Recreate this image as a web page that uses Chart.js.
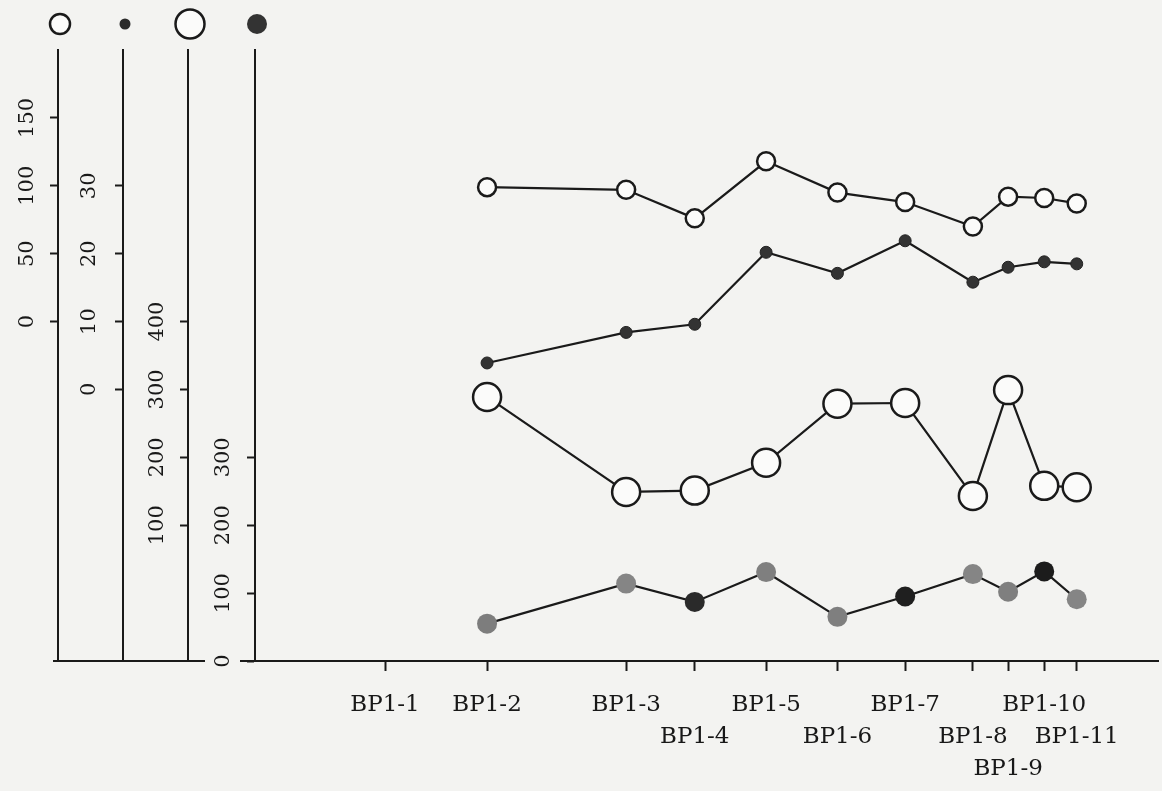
<!DOCTYPE html>
<html>
<head>
<meta charset="utf-8">
<script src="https://cdn.jsdelivr.net/npm/chart.js@4/dist/chart.umd.min.js"></script>
<style>
  html, body { margin: 0; padding: 0; background: #f3f3f1; overflow: hidden; }
  canvas { display: block; }
</style>
</head>
<body>
<canvas id="chart" width="1162" height="791"></canvas>
<script>
// sample stations along the profile and their positions (0-100 along the line)
const stations = ["BP1-1", "BP1-2", "BP1-3", "BP1-4", "BP1-5", "BP1-6", "BP1-7", "BP1-8", "BP1-9", "BP1-10", "BP1-11"];
const stationPos = [14.4, 25.7, 41.1, 48.7, 56.6, 64.5, 72.0, 79.5, 83.4, 87.4, 91.0];
// which label row each station name sits on
const labelRow = [0, 0, 0, 1, 0, 1, 0, 1, 2, 0, 1];

// four measured series, no reading at BP1-1
const smallOpen   = [null, 99, 97, 76, 118, 95, 88, 70, 92, 91, 87];
const smallFilled = [null, 3.9, 8.4, 9.6, 20.2, 17.1, 21.9, 15.8, 18.0, 18.8, 18.5];
const largeOpen   = [null, 289, 149, 151, 192, 279, 280, 143, 299, 158, 156];
const largeFilled = [null, 55, 114, 87, 131, 65, 95, 128, 102, 132, 91];

// labelled ticks on each vertical axis
const ticksA = [0, 50, 100, 150];
const ticksB = [0, 10, 20, 30];
const ticksC = [100, 200, 300, 400];
const ticksD = [0, 100, 200, 300];

// shading of the large filled dots
const largeFilledShade = ["#7d7d7d", "#7d7d7d", "#858585", "#2a2a2a", "#7f7f7f", "#7f7f7f", "#1f1f1f", "#858585", "#7f7f7f", "#1c1c1c", "#858585"];

const INK = "#1a1a1a";
const TEXT = "#181818";
const PAPER = "#fbfbfa";
const FONT = "'DejaVu Serif', serif";

function series(values) {
  return values.map((v, i) => ({ x: stationPos[i], y: v }));
}

function yAxis(ticks, min, max, width, pad) {
  return {
    type: "linear",
    position: "left",
    min: min,
    max: max,
    afterBuildTicks: s => { s.ticks = ticks.map(v => ({ value: v })); },
    afterFit: s => { s.width = width; },
    grid: { drawOnChartArea: false, drawTicks: true, tickLength: 8, tickWidth: 2, tickColor: INK },
    border: { display: true, color: INK, width: 2 },
    ticks: {
      minRotation: 90, maxRotation: 90,
      crossAlign: "center",
      padding: pad,
      color: TEXT,
      font: { family: FONT, size: 21 }
    }
  };
}

// let the station axis run out to the right edge of the page
const stretchArea = {
  id: "stretchArea",
  afterLayout(chart) {
    const right = chart.width - 4;
    const x = chart.scales.x;
    chart.chartArea.right = right;
    chart.chartArea.width = right - chart.chartArea.left;
    x.right = right;
    x.width = right - x.left;
    x.configure();
  }
};

// small marker above each axis, telling which series it belongs to
const axisKeys = {
  id: "axisKeys",
  afterDraw(chart) {
    const ctx = chart.ctx;
    const keys = [
      { axis: "yA", r: 10, fill: PAPER, line: 2.5 },
      { axis: "yB", r: 5.5, fill: "#2b2b2b", line: 0 },
      { axis: "yC", r: 14.5, fill: PAPER, line: 2.5 },
      { axis: "yD", r: 10, fill: "#333333", line: 0 }
    ];
    ctx.save();
    keys.forEach(k => {
      const x = chart.scales[k.axis].right + 2;
      ctx.beginPath();
      ctx.arc(x, 24, k.r, 0, Math.PI * 2);
      ctx.fillStyle = k.fill;
      ctx.fill();
      if (k.line) { ctx.lineWidth = k.line; ctx.strokeStyle = INK; ctx.stroke(); }
    });
    // base line running under the stacked axes
    const yb = chart.chartArea.bottom;
    ctx.strokeStyle = INK;
    ctx.lineWidth = 2;
    ctx.beginPath();
    ctx.moveTo(chart.scales.yA.right - 5, yb);
    ctx.lineTo(chart.scales.yD.right - 50, yb);
    ctx.moveTo(chart.scales.yD.right - 15, yb);
    ctx.lineTo(chart.scales.yD.right, yb);
    ctx.stroke();
    ctx.restore();
  }
};

new Chart(document.getElementById("chart"), {
  type: "line",
  data: {
    datasets: [
      {
        data: series(smallOpen), yAxisID: "yA",
        borderColor: INK, borderWidth: 2.2,
        pointRadius: 9, pointBorderWidth: 2.5, pointBackgroundColor: PAPER, pointBorderColor: INK
      },
      {
        data: series(smallFilled), yAxisID: "yB",
        borderColor: INK, borderWidth: 2.2,
        pointRadius: 6, pointBorderWidth: 1, pointBackgroundColor: "#333", pointBorderColor: "#222"
      },
      {
        data: series(largeOpen), yAxisID: "yC",
        borderColor: INK, borderWidth: 2.2,
        pointRadius: 14, pointBorderWidth: 2.5, pointBackgroundColor: PAPER, pointBorderColor: INK
      },
      {
        data: series(largeFilled), yAxisID: "yD",
        borderColor: INK, borderWidth: 2.2,
        pointRadius: 10, pointBorderWidth: 0, pointBackgroundColor: largeFilledShade
      }
    ]
  },
  options: {
    responsive: false,
    animation: false,
    layout: { padding: { left: 0, right: 4, top: 50, bottom: 0 } },
    plugins: { legend: { display: false }, tooltip: { enabled: false } },
    scales: {
      x: {
        type: "linear",
        position: "bottom",
        min: 0,
        max: 100,
        afterBuildTicks: s => { s.ticks = stationPos.map(v => ({ value: v })); },
        afterFit: s => { s.height = 130; },
        grid: { drawOnChartArea: false, drawTicks: true, tickLength: 10, tickWidth: 2, tickColor: INK },
        border: { display: true, color: INK, width: 2 },
        ticks: {
          autoSkip: false,
          maxRotation: 0,
          padding: 18,
          color: TEXT,
          font: { family: FONT, size: 23, lineHeight: 1.4 },
          callback: (v, i) => {
            const rows = new Array(labelRow[i]).fill("");
            rows.push(stations[i]);
            return rows;
          }
        }
      },
      yA: Object.assign(yAxis(ticksA, -250, 200, 58, 2), { weight: 4 }),
      yB: Object.assign(yAxis(ticksB, -40, 50, 65, 12), { weight: 3 }),
      yC: Object.assign(yAxis(ticksC, -100, 800, 65, 2), { weight: 2 }),
      yD: Object.assign(yAxis(ticksD, 0, 900, 67, 3), { weight: 1 })
    }
  },
  plugins: [stretchArea, axisKeys]
});
</script>
</body>
</html>
